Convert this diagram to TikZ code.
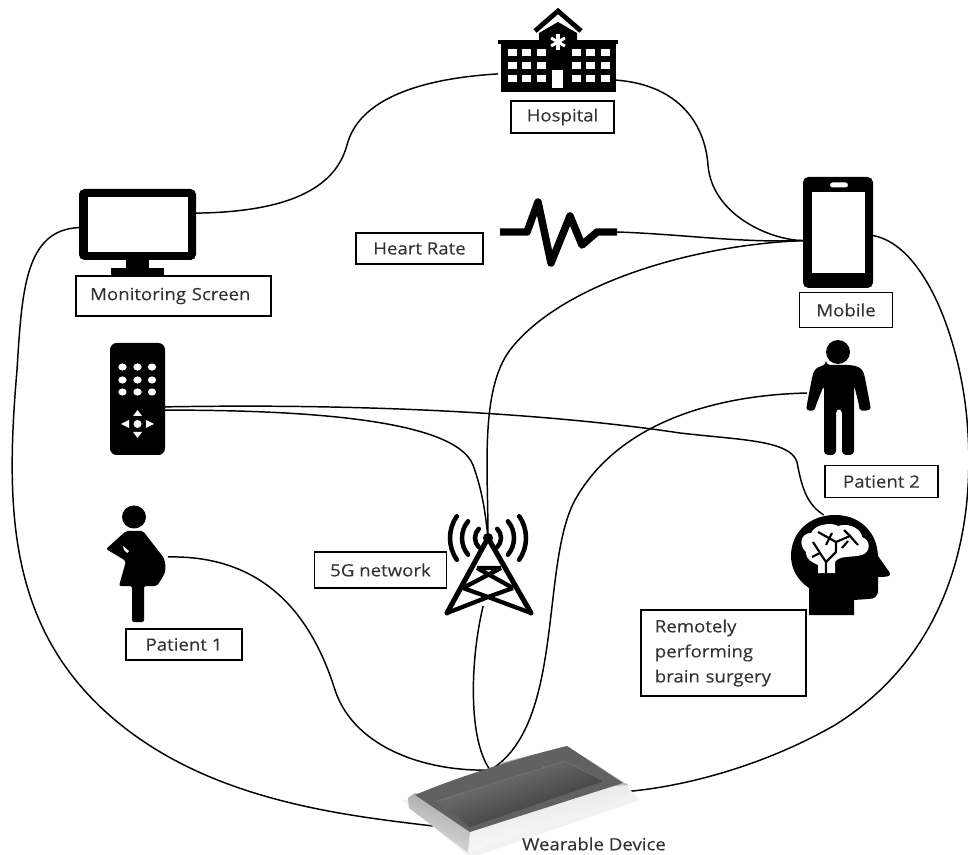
\documentclass[tikz,border=0pt]{standalone}
\usepackage{fontspec}
\setmainfont[FakeStretch=1.1,FakeBold=0.15]{Open Sans}
\usetikzlibrary{calc}
\definecolor{labeltext}{HTML}{333333}
\tikzset{
  labelbox/.style={draw=black,line width=1.1,fill=white,text=labeltext,font=\fontsize{12.7}{15}\selectfont,inner sep=0pt,anchor=center},
  iconbox/.style={inner sep=0pt,outer sep=0pt,anchor=center},
  link/.style={draw=black,line width=1.1},
  ink/.style={fill=black,draw=none},
  paper/.style={fill=white,draw=none},
  thickink/.style={draw=black,line width=3.8,line cap=round,line join=round},
}
\begin{document}
\begin{tikzpicture}[x=0.75pt,y=-0.75pt]
\useasboundingbox (0,0) rectangle (968,855);
% anchors of the pictures
\node[iconbox,minimum width=88.5pt,minimum height=30pt] (hospital) at (557,77) {};
\node[iconbox,minimum width=87.75pt,minimum height=53.25pt] (monitor) at (137.5,224.5) {};
\node[iconbox,minimum width=52.5pt,minimum height=83.25pt] (mobile) at (838,232.5) {};
\node[iconbox,minimum width=87.75pt,minimum height=48pt] (heart) at (558.5,232) {};
\node[iconbox,minimum width=41.25pt,minimum height=84pt] (remote) at (137.5,399) {};
\node[iconbox,minimum width=3pt,minimum height=3pt] (apex) at (488,538) {};
\node[iconbox,minimum width=62pt,minimum height=57pt] (tower) at (488.5,568) {};
\node[iconbox,minimum width=145.5pt,minimum height=45pt] (wearable) at (530,800) {};
\node[iconbox,minimum width=49.5pt,minimum height=87pt] (patienta) at (135,564) {};
\node[iconbox,minimum width=47.25pt,minimum height=84.75pt] (patientb) at (838.5,398) {};
\node[iconbox,minimum width=74pt,minimum height=75pt] (brain) at (840,565) {};
% connectors
\draw[link] (monitor.11) .. controls (285,212) and (335,190) .. (347,145) .. controls (360,95) and (430,78) .. (hospital.177);
\draw[link] (hospital.-3) .. controls (680,85) and (705,125) .. (708,165) .. controls (712,215) and (770,240) .. (mobile.193.6);
\draw[link] (heart.east) .. controls (680,234) and (740,243) .. (mobile.193.6);
\draw[link] (mobile.193.6) .. controls (690,245) and (560,285) .. (510,350) .. controls (480,390) and (488,470) .. (apex);
\draw[link] (mobile.-5.7) .. controls (925,245) and (960,340) .. (967,420) .. controls (976,520) and (955,650) .. (835,725) .. controls (760,768) and (680,787) .. (wearable.5.9);
\draw[link] (monitor.183.4) .. controls (25,230) and (22,290) .. (17,370) .. controls (5,510) and (8,630) .. (115,720) .. controls (210,800) and (340,815) .. (wearable.195.6);
\draw[link] (remote.-22) .. controls (310,410) and (455,420) .. (473,465) .. controls (482,490) and (485,510) .. (apex);
\draw[link] (remote.-16) .. controls (380,403) and (560,415) .. (680,433) .. controls (740,440) and (790,440) .. (797,462) .. controls (802,490) and (808,505) .. (brain.108.8);
\draw[link] (patienta.12) .. controls (260,555) and (310,610) .. (335,690) .. controls (355,750) and (430,772) .. (wearable.143.1);
\draw[link] (tower.-98) .. controls (470,660) and (468,740) .. (wearable.143.1);
\draw[link] (patientb.171) .. controls (720,395) and (620,420) .. (575,500) .. controls (540,565) and (565,725) .. (wearable.143.1);
% hospital
\fill[ink] (498,40) rectangle (618,44);
\fill[ink] (501,44) rectangle (616,92);
\fill[ink] (539,42) -- (539,33) -- (558,22) -- (577,33) -- (577,42) -- cycle;
\draw[black,line width=3.6] (535,31) -- (558,11) -- (581,31);
\foreach \wx in {512,526,541,576,590,605}{\foreach \wy in {53,66,79}{\fill[paper] (\wx-4.5,\wy-3.5) rectangle (\wx+4.5,\wy+3.5);}}
\fill[paper] (552,70) rectangle (563,88);
\foreach \ang in {90,30,150,-30,-90,210}{\draw[white,line width=2.3] (558,42) -- ++(\ang:8);}
% monitor
\fill[ink,rounded corners=4] (79,189) rectangle (196,260);
\fill[paper] (88,197) rectangle (188,252);
\fill[ink] (126,260) rectangle (149,268);
\fill[ink] (111,268) rectangle (164,277);
% mobile
\fill[ink,rounded corners=4] (803,177) rectangle (873,288);
\fill[paper] (812,192) rectangle (865,273);
\fill[paper,rounded corners=2] (830,182.5) rectangle (848,187.5);
% heart rate
\draw[black,line width=5.6,line join=round] (500,232) -- (527,232) -- (538,202) -- (551,263) -- (570,216) -- (582,245) -- (597,232) -- (heart.east);
% remote
\fill[ink,rounded corners=5] (110,343) rectangle (165,455);
\foreach \rx in {122.5,137.5,152}{\foreach \ry in {367,380,392}{\fill[paper] (\rx,\ry) ellipse [x radius=4.2,y radius=3.6];}}
\fill[paper] (137.5,424) circle (4);
\fill[paper] (137.5,410) -- (133,416) -- (142,416) -- cycle;
\fill[paper] (137.5,438) -- (133,432) -- (142,432) -- cycle;
\fill[paper] (121,424) -- (129,420) -- (129,428) -- cycle;
\fill[paper] (154,424) -- (146,420) -- (146,428) -- cycle;
% patient 1
\fill[ink] (134,517) circle [x radius=12,y radius=11.5];
\fill[ink,rounded corners=1.5] (126,531) -- (143,531) -- (160,553) .. controls (166,560) and (167,570) .. (162,578) -- (157,586) -- (144,586) -- (144,622) -- (132,622) -- (132,586) -- (119,586) -- (126,561) -- (106,549) -- cycle;
\fill[paper] (123,546) -- (129,551) -- (127,553) -- (124,550) -- cycle;
% patient 2
\fill[ink] (838,352) circle (12);
\fill[ink,rounded corners=3] (826,365) -- (851,365) .. controls (860,367) and (863,370) .. (865,378) -- (870,404) .. controls (871,411) and (860,412) .. (859,405) -- (854,385) -- (854,455) -- (842,455) -- (842,409) -- (836,409) -- (836,455) -- (824,455) -- (824,385) -- (816,405) .. controls (814,412) and (806,411) .. (807,404) -- (812,378) .. controls (814,370) and (817,367) .. (826,365) -- cycle;
% brain
\fill[ink] (809,615) -- (809,588) .. controls (797,580) and (791,568) .. (791,556) .. controls (791,532) and (810,515) .. (835,515) .. controls (860,515) and (877,532) .. (878,556) -- (890,573) .. controls (891,576) and (888,577) .. (878,577) -- (878,590) .. controls (878,597) and (874,599) .. (868,599) -- (854,600) -- (854,615) -- cycle;
\fill[paper] (806,552) .. controls (798,545) and (801,533) .. (811,533) .. controls (815,524) and (832,522) .. (838,526) .. controls (850,522) and (862,530) .. (862,537) .. controls (871,540) and (871,552) .. (862,555) .. controls (850,558) and (840,555) .. (835,562) -- (835,573) -- (818,573) -- (818,565) .. controls (812,562) and (806,560) .. (806,552) -- cycle;
\draw[black,line width=1.6] (826,573) -- (826,562) -- (820,553) -- (813,542);
\draw[black,line width=1.6] (826,562) -- (836,552) -- (836,542) -- (818,532);
\draw[black,line width=1.6] (820,553) -- (812,557);
\draw[black,line width=1.6] (836,542) -- (850,536) -- (858,545);
\draw[black,line width=1.6] (850,536) -- (844,530);
\draw[black,line width=1.6] (826,545) -- (832,533);
\draw[black,line width=1.6] (848,541) -- (842,548);
% tower
\draw[thickink] (488,538) -- (447,613) (488,538) -- (531,613);
\draw[black,line width=3.2,line join=round] (477,568) -- (501,568) (463,588) -- (501,568) (477,568) -- (513,588) (463,588) -- (488,597) -- (513,588) (447,613) -- (488,597) -- (531,613);
\fill[ink] (apex) circle (5);
\foreach \rad/\spread in {13/45,26/40,38/35}{
  \draw[black,line width=3.4,line cap=round] ($(apex)+(\spread+180:\rad)$) arc [start angle=180-\spread,end angle=180+\spread,radius=\rad*0.75pt];
  \draw[black,line width=3.4,line cap=round] ($(apex)+(\spread:\rad)$) arc [start angle=-\spread,end angle=\spread,radius=\rad*0.75pt];
}
% wearable
\fill[gray!10] (402,800) -- (470,858) -- (640,800) -- (620,780) -- cycle;
\shade[top color=gray!25,bottom color=white,shading angle=10] (408,798) -- (415,793) -- (628,783) -- (629,797) -- (468,853) -- (409,808) -- cycle;
\shade[left color=gray!70,right color=gray!25,shading angle=-20] (408,798) -- (415,793) -- (470,832) -- (468,853) -- (409,808) -- cycle;
\fill[gray!55] (500,763) -- (567,746) -- (628,785) -- (560,790) -- cycle;
\fill[black!62] (415,795) .. controls (450,780) and (510,760) .. (567,746) -- (623,783) -- (470,832) -- cycle;
\shade[top color=black!50,bottom color=black!82,shading angle=20] (437,801) -- (565,761) -- (604,781) -- (470,827) -- cycle;
\draw[black!50,densely dotted,line width=0.7] (437,801) -- (565,761) -- (604,781);
\node[text=labeltext,font=\fontsize{12.7}{15}\selectfont,inner sep=0pt] (wearlabel) at (594,844) {Wearable Device};
% labels
\node[labelbox,minimum width=77pt,minimum height=24pt] (hosplabel) at (562.5,117) {Hospital};
\node[labelbox,minimum width=146pt,minimum height=30pt,align=left,text width=125pt] (monlabel) at (173.5,296) {Monitoring Screen};
\node[labelbox,minimum width=95pt,minimum height=23pt] (heartlabel) at (419.5,248.5) {Heart Rate};
\node[labelbox,minimum width=70pt,minimum height=26.5pt] (moblabel) at (846,310) {Mobile};
\node[labelbox,minimum width=84.5pt,minimum height=24pt] (p2label) at (881.5,481.5) {Patient 2};
\node[labelbox,minimum width=99pt,minimum height=27pt] (netlabel) at (380.5,570) {5G network};
\node[labelbox,minimum width=87pt,minimum height=23pt] (p1label) at (184,644.5) {Patient 1};
\node[labelbox,minimum width=124pt,minimum height=64.5pt,align=left,text width=113pt,font=\fontsize{12.7}{18.8}\selectfont] (surgery) at (723.5,653) {\hspace*{5pt}Remotely\\\hspace*{5pt}performing\\\hspace*{5pt}brain surgery};
\end{tikzpicture}
\end{document}
